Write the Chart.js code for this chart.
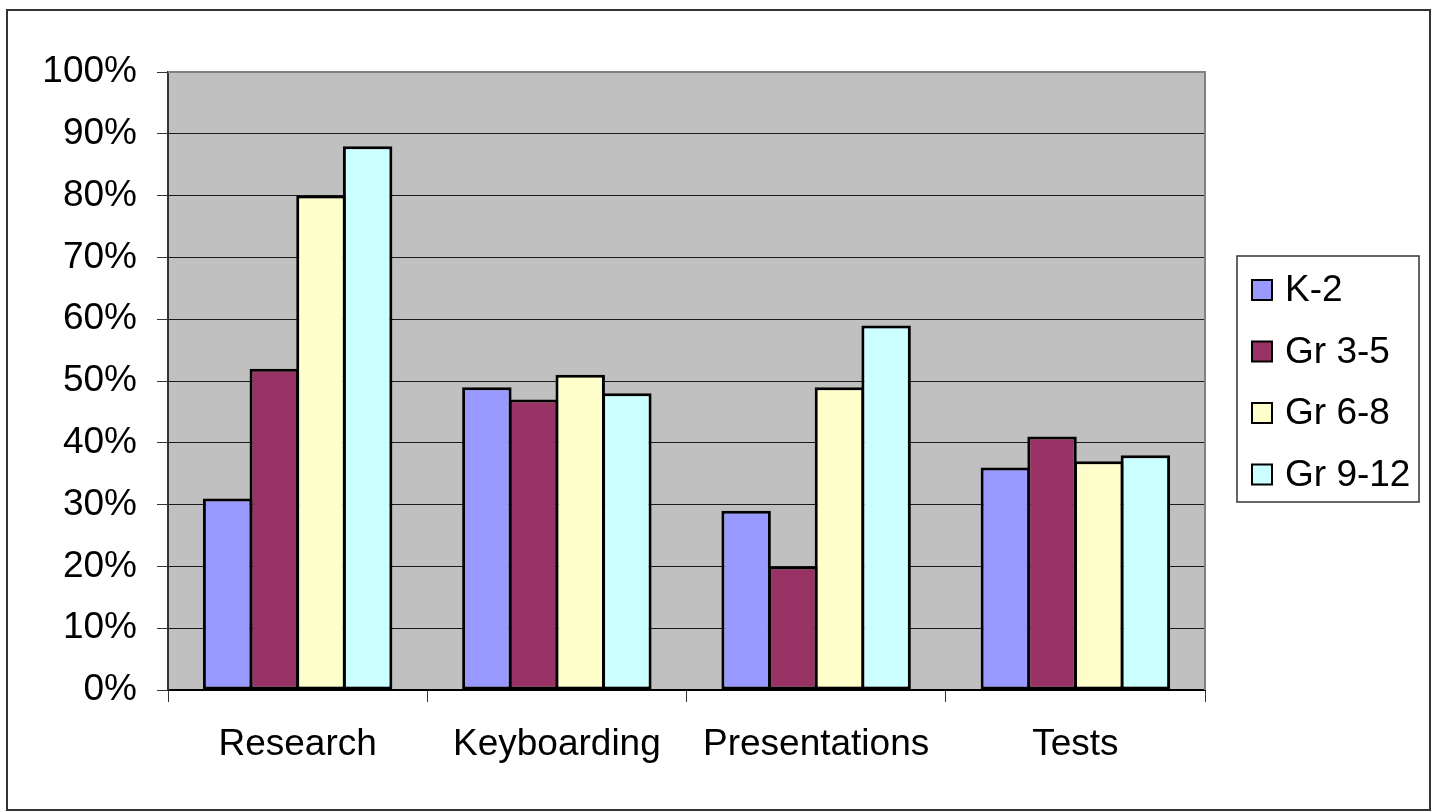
<!DOCTYPE html>
<html>
<head>
<meta charset="utf-8">
<script src="https://cdn.jsdelivr.net/npm/chart.js@4.4.0/dist/chart.umd.min.js"></script>
<style>
  html, body { margin: 0; padding: 0; background: #fff; }
  canvas { display: block; }
</style>
</head>
<body>
<canvas id="chart" width="1437" height="812"></canvas>
<script>
// Chart data
const categories = ['Research', 'Keyboarding', 'Presentations', 'Tests'];
const seriesNames = ['K-2', 'Gr 3-5', 'Gr 6-8', 'Gr 9-12'];
const k2Values = [31, 49, 29, 36];
const gr35Values = [52, 47, 20, 41];
const gr68Values = [80, 51, 49, 37];
const gr912Values = [88, 48, 59, 38];
const seriesColors = ['#9999FF', '#993366', '#FFFFCC', '#CCFFFF'];
const yMin = 0;
const yMax = 100;
const yStep = 10;

const FONT = "'Liberation Sans', Arial, sans-serif";
const FONT_SIZE = 37;

// White page, outer frame and grey plot area
const framePlugin = {
    id: 'frame',
    beforeDraw(chart) {
        const ctx = chart.ctx;
        const a = chart.chartArea;
        ctx.save();
        ctx.fillStyle = '#fff';
        ctx.fillRect(0, 0, chart.width, chart.height);
        ctx.strokeStyle = '#333';
        ctx.lineWidth = 2;
        ctx.strokeRect(7, 10, 1423, 800);
        ctx.fillStyle = '#C0C0C0';
        ctx.fillRect(a.left, a.top, a.width, a.height);
        ctx.restore();
    },
    beforeDatasetsDraw(chart) {
        const ctx = chart.ctx;
        const a = chart.chartArea;
        ctx.save();
        ctx.strokeStyle = '#808080';
        ctx.lineWidth = 2;
        ctx.beginPath();
        ctx.moveTo(a.left, a.top);
        ctx.lineTo(a.right, a.top);
        ctx.lineTo(a.right, a.bottom);
        ctx.stroke();
        ctx.restore();
    }
};

// Boxed legend on the right, like the spreadsheet one
const boxLegendPlugin = {
    id: 'boxLegend',
    afterDraw(chart) {
        const ctx = chart.ctx;
        ctx.save();
        ctx.strokeStyle = '#333';
        ctx.lineWidth = 1.5;
        ctx.strokeRect(1237, 256, 182, 246);
        ctx.font = FONT_SIZE + 'px ' + FONT;
        ctx.textBaseline = 'middle';
        ctx.textAlign = 'left';
        chart.data.datasets.forEach((ds, i) => {
            const cy = 290 + i * 61.5;
            ctx.fillStyle = ds.backgroundColor;
            ctx.fillRect(1252, cy - 10, 20, 20);
            ctx.strokeStyle = '#000';
            ctx.lineWidth = 2;
            ctx.strokeRect(1252, cy - 10, 20, 20);
            ctx.fillStyle = '#000';
            ctx.fillText(ds.label, 1285, cy + 1);
        });
        ctx.restore();
    }
};

const allValues = [k2Values, gr35Values, gr68Values, gr912Values];

new Chart(document.getElementById('chart').getContext('2d'), {
    type: 'bar',
    data: {
        labels: categories,
        datasets: seriesNames.map((name, i) => ({
            label: name,
            data: allValues[i],
            backgroundColor: seriesColors[i],
            borderColor: '#000',
            borderWidth: 3,
            borderSkipped: false,
            categoryPercentage: 0.72,
            barPercentage: 1.06
        }))
    },
    options: {
        responsive: false,
        animation: false,
        layout: { padding: { left: 0, top: 72, right: 232, bottom: 0 } },
        plugins: {
            legend: { display: false },
            tooltip: { enabled: false }
        },
        scales: {
            x: {
                afterFit(scale) { scale.height = 122; },
                grid: {
                    offset: true,
                    drawOnChartArea: false,
                    drawTicks: true,
                    tickLength: 12,
                    tickColor: '#333'
                },
                border: { color: '#000', width: 2 },
                ticks: {
                    color: '#000',
                    padding: 21,
                    font: { family: FONT, size: FONT_SIZE }
                }
            },
            y: {
                min: yMin,
                max: yMax,
                afterFit(scale) { scale.width = 168; },
                grid: {
                    color: '#1a1a1a',
                    lineWidth: 1,
                    tickLength: 11,
                    tickColor: '#333'
                },
                border: { color: '#333', width: 2 },
                ticks: {
                    stepSize: yStep,
                    color: '#000',
                    padding: 20,
                    font: { family: FONT, size: FONT_SIZE },
                    callback: v => v + '%'
                }
            }
        }
    },
    plugins: [framePlugin, boxLegendPlugin]
});
</script>
</body>
</html>
